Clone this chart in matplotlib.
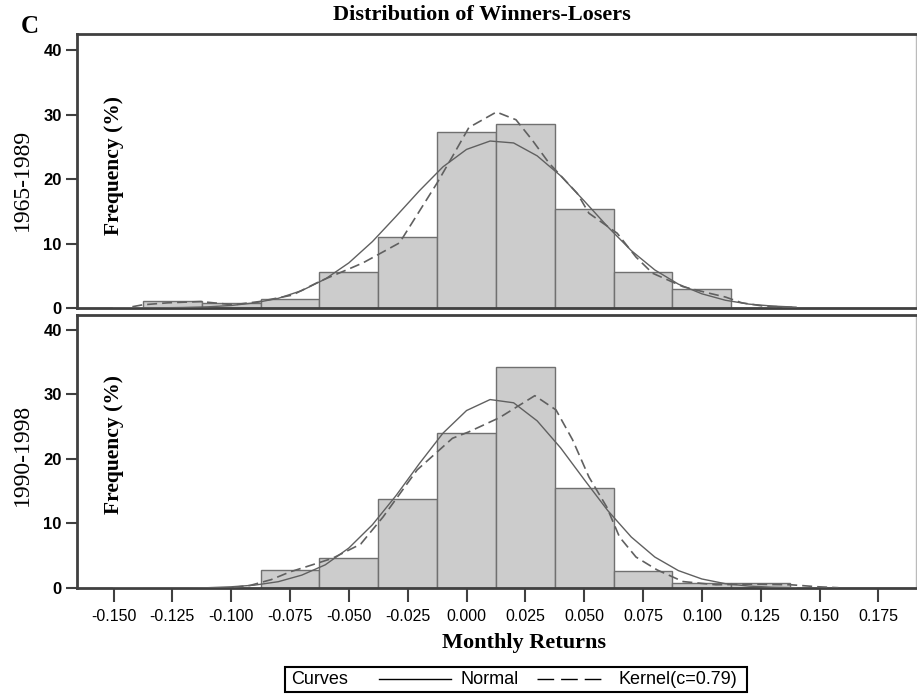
import matplotlib
matplotlib.use("Agg")
import matplotlib.pyplot as plt
from matplotlib.lines import Line2D
from matplotlib.patches import Rectangle

# histogram bins (bin centres, width 0.025)
bin_centers = [-0.125, -0.100, -0.075, -0.050, -0.025, 0.000, 0.025, 0.050, 0.075, 0.100, 0.125]
freq_6589 = [1.1, 0.8, 1.4, 5.6, 11.0, 27.3, 28.6, 15.4, 5.6, 3.0, 0.0]
freq_9098 = [0.0, 0.0, 2.8, 4.6, 13.8, 24.0, 34.3, 15.5, 2.7, 0.8, 0.8]

# normal curves
norm_x = [-0.15, -0.13, -0.12, -0.11, -0.10, -0.09, -0.08, -0.07, -0.06, -0.05, -0.04,
          -0.03, -0.02, -0.01, 0.00, 0.01, 0.02, 0.03, 0.04, 0.05, 0.06, 0.07, 0.08,
          0.09, 0.10, 0.11, 0.12, 0.13, 0.14]
norm_6589 = [0.0, 0.03, 0.08, 0.18, 0.39, 0.80, 1.5, 2.7, 4.5, 7.0, 10.3,
             14.2, 18.2, 21.9, 24.6, 25.9, 25.6, 23.6, 20.5, 16.6, 12.6, 8.9, 5.9,
             3.7, 2.2, 1.2, 0.6, 0.3, 0.13]
norm_9098 = [0.0, 0.0, 0.0, 0.05, 0.19, 0.45, 0.98, 2.0, 3.6, 6.2, 9.8,
             14.3, 19.3, 24.0, 27.5, 29.2, 28.7, 25.9, 21.7, 16.8, 12.0, 7.9, 4.8,
             2.7, 1.4, 0.67, 0.30, 0.12, 0.05]

# kernel curves
kern_x_6589 = [-0.142, -0.1375, -0.127, -0.113, -0.099, -0.088, -0.074, -0.062, -0.051,
               -0.044, -0.0285, -0.0125, -0.006, 0.001, 0.0127, 0.021, 0.028, 0.035,
               0.047, 0.052, 0.064, 0.072, 0.079, 0.092, 0.103, 0.110, 0.117, 0.126, 0.139]
kern_6589 = [0.2, 0.5, 0.8, 1.0, 0.5, 1.0, 2.0, 4.2, 5.9,
             7.0, 10.1, 19.4, 23.5, 28.0, 30.4, 29.2, 26.0, 22.5,
             17.8, 14.7, 11.6, 7.9, 5.4, 3.3, 2.3, 1.7, 0.8, 0.3, 0.1]
kern_x_9098 = [-0.099, -0.092, -0.083, -0.075, -0.0655, -0.057, -0.045, -0.0355, -0.021,
               -0.006, 0.001, 0.014, 0.029, 0.038, 0.045, 0.052, 0.0595, 0.065, 0.072,
               0.081, 0.092, 0.106, 0.120, 0.138, 0.149, 0.158]
kern_9098 = [0.1, 0.4, 1.3, 2.5, 3.6, 4.6, 6.8, 11.0, 18.3,
             23.2, 24.2, 26.4, 29.8, 27.6, 23.0, 17.2, 12.6, 7.9, 4.8,
             2.8, 1.0, 0.5, 0.6, 0.5, 0.2, 0.05]

xticks = [-0.150, -0.125, -0.100, -0.075, -0.050, -0.025, 0.000, 0.025,
          0.050, 0.075, 0.100, 0.125, 0.150, 0.175]
yticks = [0, 10, 20, 30, 40]

SERIF = "Liberation Serif"
SANS = "Liberation Sans"
bar_fc = "#cccccc"
bar_ec = "#707070"
curve_c = "#606060"
spine_c = "#404040"

fig = plt.figure(figsize=(9.17, 6.94), dpi=100)
ax_top = fig.add_axes([0.084, 0.5562, 0.915, 0.3948])
ax_bot = fig.add_axes([0.084, 0.1527, 0.915, 0.3934])

panels = [
    (ax_top, freq_6589, norm_6589, kern_x_6589, kern_6589, 42.5, "1965-1989", 0.741, 0.762),
    (ax_bot, freq_9098, norm_9098, kern_x_9098, kern_9098, 42.3, "1990-1998", 0.344, 0.359),
]

for ax, freq, norm, kx, ky, ytop, period, py, fy in panels:
    ax.bar(bin_centers, freq, width=0.025, color=bar_fc, edgecolor=bar_ec, linewidth=1.0, zorder=2)
    ax.plot(norm_x, norm, color=curve_c, linewidth=1.0, zorder=3)
    ax.plot(kx, ky, color=curve_c, linewidth=1.2, dashes=(6, 3), zorder=3)
    ax.set_xlim(-0.1655, 0.191)
    ax.set_ylim(0, ytop)
    ax.set_yticks(yticks)
    ax.set_yticklabels([str(v) for v in yticks], fontfamily=SANS, fontweight="bold", fontsize=12)
    ax.tick_params(axis="y", direction="out", length=8, width=1.5, color=spine_c, pad=3)
    for side in ["left", "bottom", "top"]:
        ax.spines[side].set_color(spine_c)
        ax.spines[side].set_linewidth(2.0)
    ax.spines["right"].set_color("#bbbbbb")
    ax.spines["right"].set_linewidth(1.0)
    fig.text(0.024, py, period, rotation=90, ha="center", va="center",
             fontfamily=SERIF, fontsize=17)
    fig.text(0.124, fy, "Frequency (%)", rotation=90, ha="center", va="center",
             fontfamily=SERIF, fontweight="bold", fontsize=15.5)

ax_top.set_xticks([])
ax_bot.set_xticks(xticks)
ax_bot.set_xticklabels(["%.3f" % v for v in xticks], fontfamily=SANS, fontsize=11.5)
ax_bot.tick_params(axis="x", direction="out", length=10, width=1.5, color=spine_c, pad=5)

fig.text(0.032, 0.9625, "C", ha="center", va="center", fontfamily=SERIF,
         fontweight="bold", fontsize=18)
fig.text(0.526, 0.978, "Distribution of Winners-Losers", ha="center", va="center",
         fontfamily=SERIF, fontweight="bold", fontsize=16)
fig.text(0.571, 0.073, "Monthly Returns", ha="center", va="center",
         fontfamily=SERIF, fontweight="bold", fontsize=16)

# legend box drawn by hand: "Curves ——— Normal – – – Kernel(c=0.79)"
fig.patches.append(Rectangle((0.311, 0.003), 0.504, 0.036, transform=fig.transFigure,
                             facecolor="white", edgecolor="black", linewidth=1.5))
ly = 0.021
fig.text(0.317, ly, "Curves", ha="left", va="center", fontfamily=SANS, fontsize=13)
fig.lines.append(Line2D([0.413, 0.492], [ly, ly], transform=fig.transFigure,
                        color="black", linewidth=1.0))
fig.text(0.502, ly, "Normal", ha="left", va="center", fontfamily=SANS, fontsize=13)
fig.lines.append(Line2D([0.586, 0.656], [ly, ly], transform=fig.transFigure,
                        color="black", linewidth=1.0, dashes=(12, 5)))
fig.text(0.675, ly, "Kernel(c=0.79)", ha="left", va="center", fontfamily=SANS, fontsize=13)

fig.savefig("out.png", dpi=100)
